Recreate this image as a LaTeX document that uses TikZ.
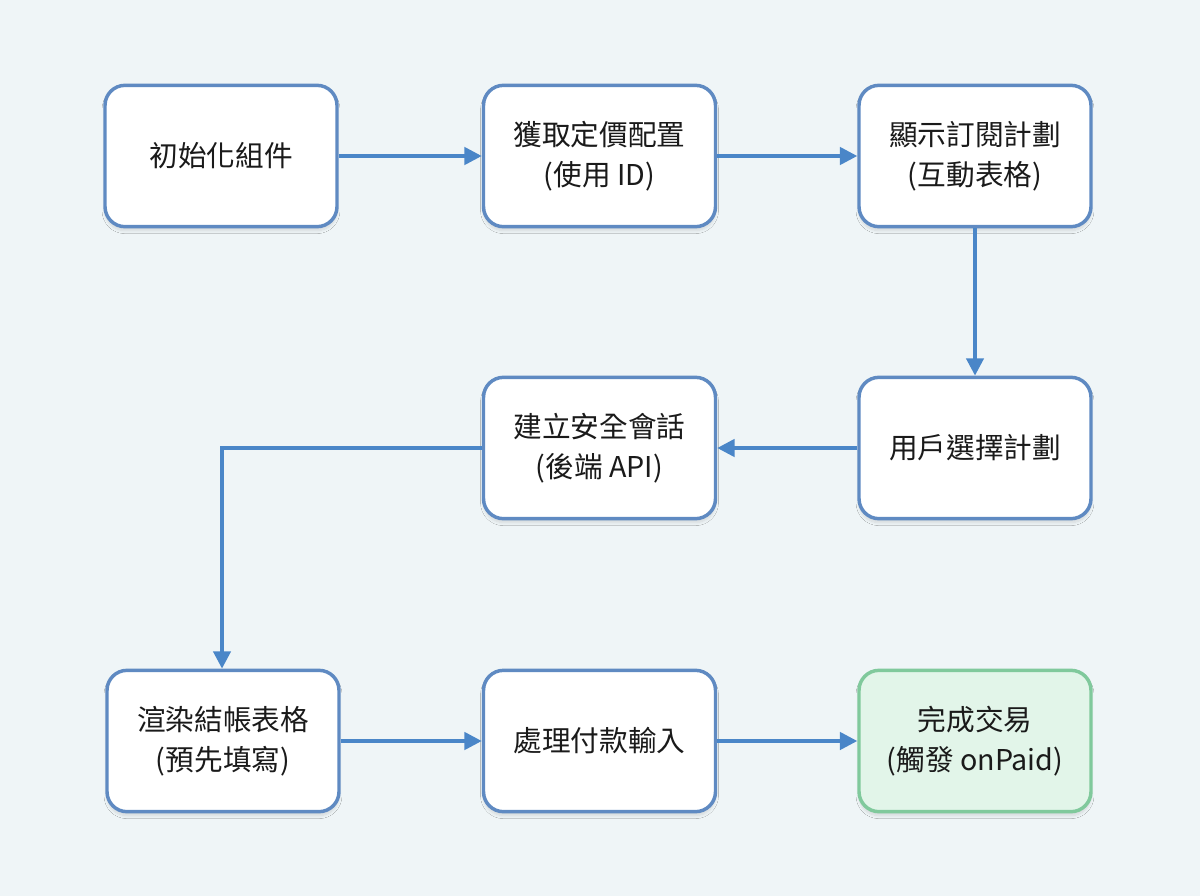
\documentclass[tikz,border=0pt]{standalone}
\usepackage{fontspec}
\setmainfont{Noto Sans CJK TC}
\usetikzlibrary{arrows.meta,shadows.blur}
\definecolor{bg}{HTML}{EFF5F7}
\definecolor{boxborder}{HTML}{5F8AC2}
\definecolor{arrowc}{HTML}{4A86C8}
\definecolor{greenfill}{HTML}{E2F5E9}
\definecolor{greenborder}{HTML}{80C99C}
\definecolor{txt}{HTML}{1A1A1A}
\tikzset{
  stepbox/.style={draw=boxborder, line width=2.6pt, fill=white, rounded corners=15pt,
    minimum width=174pt, minimum height=106pt, align=center, text=txt,
    font=\fontsize{21.5}{30}\selectfont,
    blur shadow={shadow blur steps=10, shadow xshift=0pt, shadow yshift=-3pt, shadow opacity=12}},
  donebox/.style={stepbox, draw=greenborder, fill=greenfill},
  flow/.style={draw=arrowc, line width=2.6pt, -{Triangle[length=13pt,width=13pt]}}
}
\begin{document}
\begin{tikzpicture}[x=0.75pt,y=-0.75pt]
\fill[bg] (0,0) rectangle (1200,896);
\useasboundingbox (0,0) rectangle (1200,896);
\node[stepbox] (n1) at (221,156) {初始化組件};
\node[stepbox] (n2) at (599.5,156) {獲取定價配置\\(使用 ID)};
\node[stepbox] (n3) at (975,156) {顯示訂閱計劃\\(互動表格)};
\node[stepbox] (n4) at (975,448) {用戶選擇計劃};
\node[stepbox] (n5) at (599.5,448) {建立安全會話\\(後端 API)};
\node[stepbox] (n6) at (223,741) {渲染結帳表格\\(預先填寫)};
\node[stepbox] (n7) at (599.5,741) {處理付款輸入};
\node[donebox] (n8) at (975,741) {完成交易\\(觸發 onPaid)};
\coordinate (c1) at (222,448);
\draw[flow] (n1) -- (n2);
\draw[flow] (n2) -- (n3);
\draw[flow] (n3) -- (n4);
\draw[flow] (n4) -- (n5);
\draw[flow] (n5.west) -- (c1) -- (c1 |- n6.north);
\draw[flow] (n6) -- (n7);
\draw[flow] (n7) -- (n8);
\end{tikzpicture}
\end{document}
